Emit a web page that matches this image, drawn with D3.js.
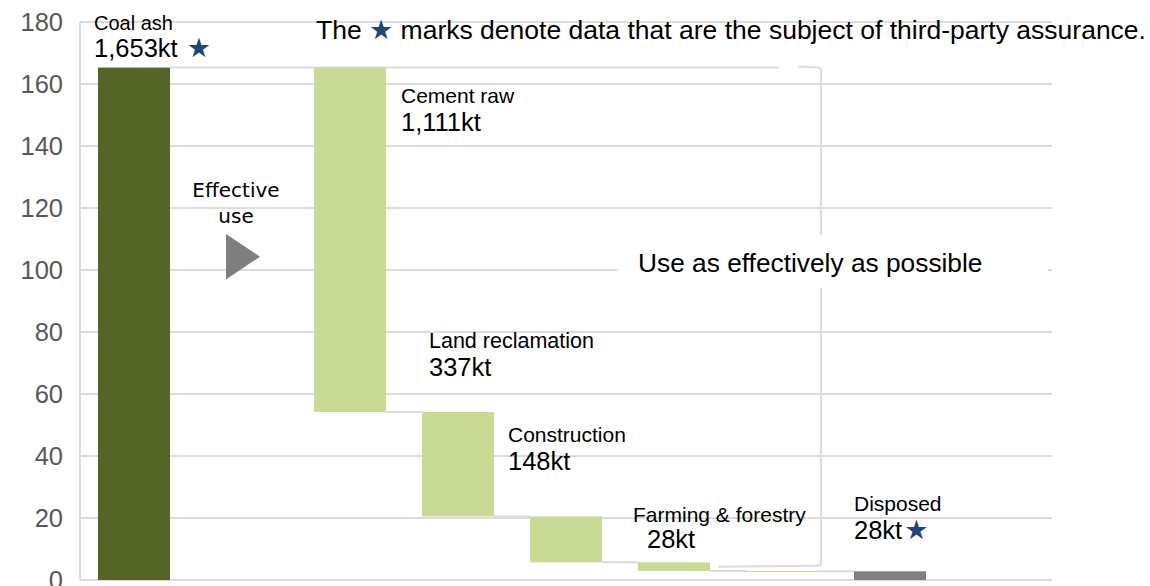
<!DOCTYPE html>
<html><head><meta charset="utf-8">
<script src="https://cdn.jsdelivr.net/npm/d3@7"></script>
<style>
html,body{margin:0;padding:0;background:#fff;}
svg{display:block;font-family:"Liberation Sans",Arial,sans-serif;}
</style></head>
<body><svg id="chart" width="1150" height="586"></svg>
<script>
// ---- data ----
const steps = ["coal", "effective", "cement", "land", "construction", "farming", "other", "disposed", "end"];
const totalAsh = 165.3;                       // 1,653kt in units of 10kt
const useSteps = ["cement", "land", "construction", "farming", "other"];
const useAmounts = [111.1, 33.7, 14.8, 2.8, 0.1];
const disposedAmount = 2.8;
const yTicks = [0, 20, 40, 60, 80, 100, 120, 140, 160, 180];
const labelNames = ["Coal ash", "Cement raw", "Land reclamation", "Construction", "Farming & forestry", "Disposed"];
const labelValues = ["1,653kt", "1,111kt", "337kt", "148kt", "28kt", "28kt"];
const labelStars = [true, false, false, false, false, true];
const labelSteps = ["coal", "cement", "land", "construction", "farming", "disposed"];
const noteText = ["The ", "★", " marks denote data that are the subject of third-party assurance."];
const bracketText = "Use as effectively as possible";
const arrowText = ["Effective", "use"];

// ---- layout (positions/styles) ----
const labelLayout = [
  {dx: -4, y1: 30, y2: 57, dxV: -4, fs1: 20},
  {dx: 87, y1: 103, y2: 131, dxV: 87, fs1: 21},
  {dx: 7, y1: 348, y2: 376, dxV: 7, fs1: 21.5},
  {dx: -22, y1: 442, y2: 470, dxV: -22, fs1: 21},
  {dx: -5, y1: 522, y2: 548, dxV: 9, fs1: 21},
  {dx: 0, y1: 511, y2: 539, dxV: 0, fs1: 21}
];
const C = {dark: "#556526", light: "#c9da95", grey: "#7f7f7f", grid: "#dcdcdc", star: "#1f4677", axis: "#595959"};

const svg = d3.select("#chart");
const x = d3.scaleBand().domain(steps).range([80, 1052]).paddingInner(1/3).paddingOuter(1/6);
const y = d3.scaleLinear().domain([0, 180]).range([580, 22]);
const bw = x.bandwidth();

// bars table
const bars = [{step: "coal", lo: 0, hi: totalAsh, color: C.dark}];
let level = totalAsh;
useSteps.forEach((s, i) => {
  const lo = level - useAmounts[i];
  bars.push({step: s, lo: lo, hi: level, color: C.light});
  level = lo;
});
bars.push({step: "disposed", lo: 0, hi: disposedAmount, color: C.grey});

// gridlines
svg.append("g").selectAll("line").data(yTicks).join("line")
  .attr("x1", x.range()[0]).attr("x2", x.range()[1])
  .attr("y1", d => y(d)).attr("y2", d => y(d))
  .attr("stroke", C.grid).attr("stroke-width", 2);
svg.append("line").attr("x1", x.range()[0]).attr("x2", x.range()[0])
  .attr("y1", y(180)).attr("y2", y(0)).attr("stroke", C.grid).attr("stroke-width", 2);

// y axis labels
const yAxis = d3.axisLeft(y).tickValues(yTicks).tickSize(0).tickPadding(17);
const ga = svg.append("g").attr("transform", `translate(${x.range()[0]},0)`).call(yAxis);
ga.select(".domain").remove();
ga.selectAll("text").attr("font-size", 25.5).attr("fill", C.axis).attr("font-family", "Liberation Sans, Arial, sans-serif");

// top connector line from coal ash
svg.append("line")
  .attr("x1", x("coal") + bw).attr("x2", x("other") + 33)
  .attr("y1", y(totalAsh)).attr("y2", y(totalAsh))
  .attr("stroke", C.grid).attr("stroke-width", 2);

// connectors between waterfall bars
const conn = [];
for (let i = 1; i < bars.length - 1; i++) {
  conn.push({x1: x(bars[i].step) + bw, x2: x(bars[i + 1].step), v: bars[i].lo});
}
svg.append("g").selectAll("line").data(conn).join("line")
  .attr("x1", d => d.x1).attr("x2", d => d.x2)
  .attr("y1", d => y(d.v)).attr("y2", d => y(d.v))
  .attr("stroke", C.grid).attr("stroke-width", 2);

// bracket
const bx = x("other") + bw + 3;
const bTop = y(totalAsh), bBot = y(4.6);
svg.append("path")
  .attr("d", `M${bx - 23},${bTop - 1} L${bx - 3},${bTop} Q${bx},${bTop} ${bx},${bTop + 3} L${bx},${bBot - 3} Q${bx},${bBot} ${bx - 3},${bBot} L${x("farming") + bw + 8},${bBot + 1}`)
  .attr("fill", "none").attr("stroke", C.grid).attr("stroke-width", 2);

// bars
svg.append("g").selectAll("rect").data(bars).join("rect")
  .attr("x", d => x(d.step)).attr("width", bw)
  .attr("y", d => y(d.hi))
  .attr("height", d => Math.max(1, y(d.lo) - y(d.hi)))
  .attr("fill", d => d.color);

// white box with bracket text
svg.append("rect").attr("x", 618).attr("y", 235).attr("width", 430).attr("height", 53).attr("fill", "#fff");
svg.append("text").attr("x", 638).attr("y", 272).attr("font-size", 26.3).attr("fill", "#000").text(bracketText);

// effective use arrow
const ax = x("effective") + bw / 2 - 6;
svg.append("g").selectAll("text").data(arrowText).join("text")
  .attr("x", ax).attr("y", (d, i) => 197 + i * 26)
  .attr("text-anchor", "middle").attr("font-family", "DejaVu Sans, Verdana, sans-serif")
  .attr("font-size", 20).attr("fill", "#000").text(d => d);
svg.append("path")
  .attr("d", `M${ax - 10},${y(111.6)} L${ax + 24},${y(104.3)} L${ax - 10},${y(96.9)} Z`)
  .attr("fill", C.grey);

// labels
labelSteps.forEach((s, i) => {
  const L = labelLayout[i];
  const bx0 = x(s);
  svg.append("text").attr("x", bx0 + L.dx).attr("y", L.y1)
    .attr("font-size", L.fs1).attr("fill", "#000").text(labelNames[i]);
  const t = svg.append("text").attr("x", bx0 + L.dxV).attr("y", L.y2)
    .attr("font-size", 25.5).attr("fill", "#000");
  t.append("tspan").text(labelValues[i]);
  if (labelStars[i]) {
    t.append("tspan").attr("fill", C.star).attr("font-family", "DejaVu Sans, sans-serif")
      .attr("dx", s === "coal" ? 9 : 2).attr("font-size", 27).text("★");
  }
});

// note
const nt = svg.append("text").attr("x", 316).attr("y", 39).attr("font-size", 26.5).attr("fill", "#000");
noteText.forEach((t, i) => {
  const ts = nt.append("tspan").text(t);
  if (t === "★") ts.attr("fill", C.star).attr("font-family", "DejaVu Sans, sans-serif").attr("font-size", 27);
});
</script></body></html>
